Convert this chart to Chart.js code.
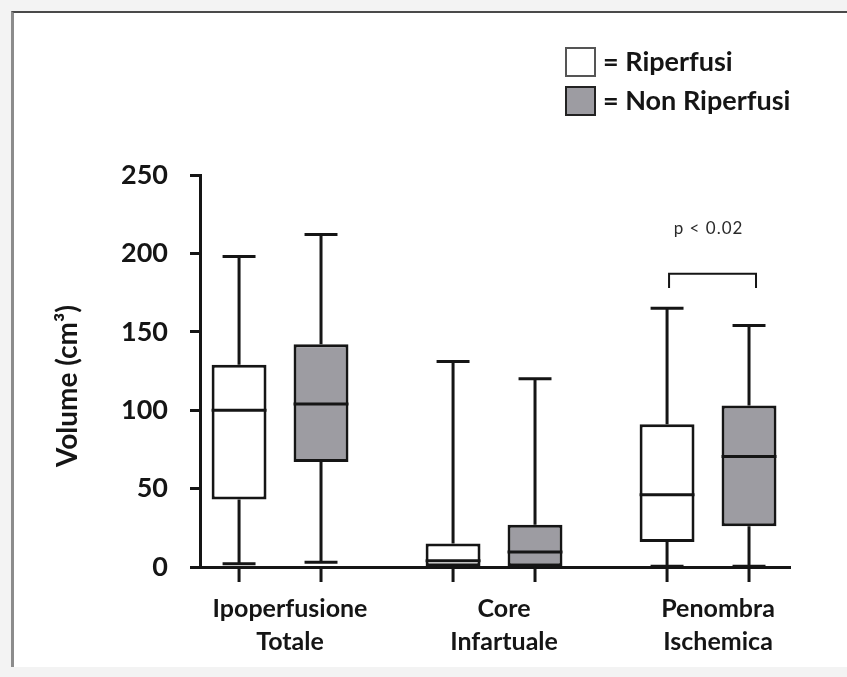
<!DOCTYPE html>
<html>
<head>
<meta charset="utf-8">
<title>Volume (cm³)</title>
<script src="https://cdn.jsdelivr.net/npm/chart.js@4/dist/chart.umd.min.js"></script>
<style>
  html, body { margin: 0; padding: 0; }
  body { width: 847px; height: 677px; background: #f3f3f3; position: relative; overflow: hidden; }
  .frame {
    position: absolute; left: 11px; top: 11px; width: 900px; height: 654px;
    background: #fff; border-top: 2px solid #4a4a4a; border-left: 3px solid #8c8c8c;
  }
  #boxChart { position: absolute; left: 0; top: 0; }
</style>
</head>
<body>
<div class="frame"></div>
<canvas id="boxChart" width="847" height="677"></canvas>
<script>
// categories and series
const groups = [['Ipoperfusione', 'Totale'], ['Core', 'Infartuale'], ['Penombra', 'Ischemica']];
const seriesNames = ['Riperfusi', 'Non Riperfusi'];
const yTitle = 'Volume (cm³)';

// five-number summaries per group (cm3)
const riperfusiMin    = [2, 0, 0.5];
const riperfusiQ1     = [43, 0.5, 16];
const riperfusiMedian = [100, 4, 46];
const riperfusiQ3     = [129, 15, 91];
const riperfusiMax    = [198, 131, 165];

const nonRiperfusiMin    = [3, 0.5, 0.5];
const nonRiperfusiQ1     = [67, 0.5, 26];
const nonRiperfusiMedian = [104, 9.5, 70.5];
const nonRiperfusiQ3     = [142, 27, 103];
const nonRiperfusiMax    = [212, 120, 154];

const yTicks = [0, 50, 100, 150, 200, 250];

// significance marker over Penombra Ischemica
const sigGroup = 2;
const sigText = 'p < 0.02';
const sigBracketTop = 187;
const sigBracketLeg = 178;
const sigTextValue = 216;

const FONT = 'Lato, "Open Sans", sans-serif';
const INK = '#151515';

function makeDataset(label, fill, q1, q3, min, median, max) {
  return {
    label: label,
    data: groups.map((g, i) => ({ x: i + 1, y: [q1[i], q3[i]] })),
    backgroundColor: fill,
    borderColor: INK,
    borderWidth: 3,
    borderSkipped: false,
    whiskerMin: min,
    median: median,
    whiskerMax: max
  };
}

// whiskers, medians, axis marks, significance bracket, y title and legend
const boxPlotExtras = {
  id: 'boxPlotExtras',
  afterDatasetsDraw(chart) {
    const { ctx, scales: { y } } = chart;
    ctx.save();
    ctx.strokeStyle = INK;
    ctx.lineCap = 'butt';
    chart.data.datasets.forEach((ds, di) => {
      const meta = chart.getDatasetMeta(di);
      meta.data.forEach((bar, i) => {
        const w = bar.width;
        const cap = w * 0.6;
        const q1 = y.getPixelForValue(ds.data[i].y[0]);
        const q3 = y.getPixelForValue(ds.data[i].y[1]);
        const lo = y.getPixelForValue(ds.whiskerMin[i]);
        const hi = y.getPixelForValue(ds.whiskerMax[i]);
        const med = y.getPixelForValue(ds.median[i]);
        ctx.lineWidth = 3;
        ctx.beginPath();
        // upper whisker + cap
        ctx.moveTo(bar.x, q3); ctx.lineTo(bar.x, hi);
        ctx.moveTo(bar.x - cap / 2, hi); ctx.lineTo(bar.x + cap / 2, hi);
        // lower whisker + cap
        ctx.moveTo(bar.x, q1); ctx.lineTo(bar.x, lo);
        ctx.moveTo(bar.x - cap / 2, lo); ctx.lineTo(bar.x + cap / 2, lo);
        // median
        ctx.moveTo(bar.x - w / 2, med); ctx.lineTo(bar.x + w / 2, med);
        // tick under the box
        ctx.moveTo(bar.x, y.bottom); ctx.lineTo(bar.x, y.bottom + 15);
        ctx.stroke();
      });
    });

    // bracket
    const a = chart.getDatasetMeta(0).data[sigGroup];
    const b = chart.getDatasetMeta(1).data[sigGroup];
    const top = y.getPixelForValue(sigBracketTop);
    const leg = y.getPixelForValue(sigBracketLeg);
    const x1 = a.x + 2;
    const x2 = b.x + 7;
    ctx.lineWidth = 2;
    ctx.beginPath();
    ctx.moveTo(x1, leg); ctx.lineTo(x1, top); ctx.lineTo(x2, top); ctx.lineTo(x2, leg);
    ctx.stroke();
    ctx.fillStyle = '#2a2a2a';
    ctx.font = '17px ' + FONT;
    ctx.letterSpacing = '1px';
    ctx.textAlign = 'center';
    ctx.textBaseline = 'middle';
    ctx.fillText(sigText, (x1 + x2) / 2 - 4, y.getPixelForValue(sigTextValue));
    ctx.restore();
  },
  afterDraw(chart) {
    const { ctx, scales: { y } } = chart;
    ctx.save();
    ctx.fillStyle = INK;
    ctx.textBaseline = 'middle';

    // rotated y-axis title
    ctx.font = 'bold 28px ' + FONT;
    ctx.textAlign = 'center';
    ctx.translate(68, y.getPixelForValue(0) - 181);
    ctx.rotate(-Math.PI / 2);
    ctx.fillText(yTitle, 0, 0);
    ctx.setTransform(1, 0, 0, 1, 0, 0);

    // legend
    chart.data.datasets.forEach((ds, di) => {
      const top = 48 + di * 39;
      ctx.fillStyle = ds.backgroundColor;
      ctx.fillRect(566, top, 29, 28);
      ctx.lineWidth = 2;
      ctx.strokeStyle = di === 0 ? '#555' : '#222';
      ctx.strokeRect(566, top, 29, 28);
      ctx.fillStyle = INK;
      ctx.font = 'bold 27px ' + FONT;
      ctx.textAlign = 'left';
      ctx.fillText('= ' + ds.label, 603, top + 14);
    });
    ctx.restore();
  }
};

new Chart(document.getElementById('boxChart').getContext('2d'), {
  type: 'bar',
  data: {
    datasets: [
      makeDataset(seriesNames[0], '#ffffff', riperfusiQ1, riperfusiQ3, riperfusiMin, riperfusiMedian, riperfusiMax),
      makeDataset(seriesNames[1], '#9d9ca2', nonRiperfusiQ1, nonRiperfusiQ3, nonRiperfusiMin, nonRiperfusiMedian, nonRiperfusiMax)
    ]
  },
  options: {
    responsive: false,
    animation: false,
    devicePixelRatio: 1,
    categoryPercentage: 0.766,
    barPercentage: 0.67,
    layout: { padding: { left: 51, top: 175, right: 57, bottom: 0 } },
    plugins: { legend: { display: false }, tooltip: { enabled: false } },
    scales: {
      x: {
        type: 'linear',
        offset: false,
        min: 0.626,
        max: 3.383,
        afterBuildTicks: (scale) => { scale.ticks = groups.map((g, i) => ({ value: i + 1 })); },
        afterFit: (scale) => { scale.height = 110; },
        grid: { display: false },
        border: { display: true, color: INK, width: 3 },
        ticks: {
          callback: (v) => groups[v - 1],
          color: INK,
          padding: 18,
          labelOffset: 10,
          maxRotation: 0,
          font: { family: FONT, size: 25, weight: 'bold', lineHeight: 1.3 }
        }
      },
      y: {
        min: 0,
        max: 250,
        afterBuildTicks: (scale) => { scale.ticks = yTicks.map(v => ({ value: v })); },
        afterFit: (scale) => { scale.width = 149; },
        grid: { display: true, drawOnChartArea: false, drawTicks: true, tickLength: 10, color: INK, lineWidth: 3 },
        border: { display: true, color: INK, width: 3 },
        ticks: {
          color: INK,
          padding: 22,
          font: { family: FONT, size: 27, weight: 'bold' }
        }
      }
    }
  },
  plugins: [boxPlotExtras]
});
</script>
</body>
</html>
